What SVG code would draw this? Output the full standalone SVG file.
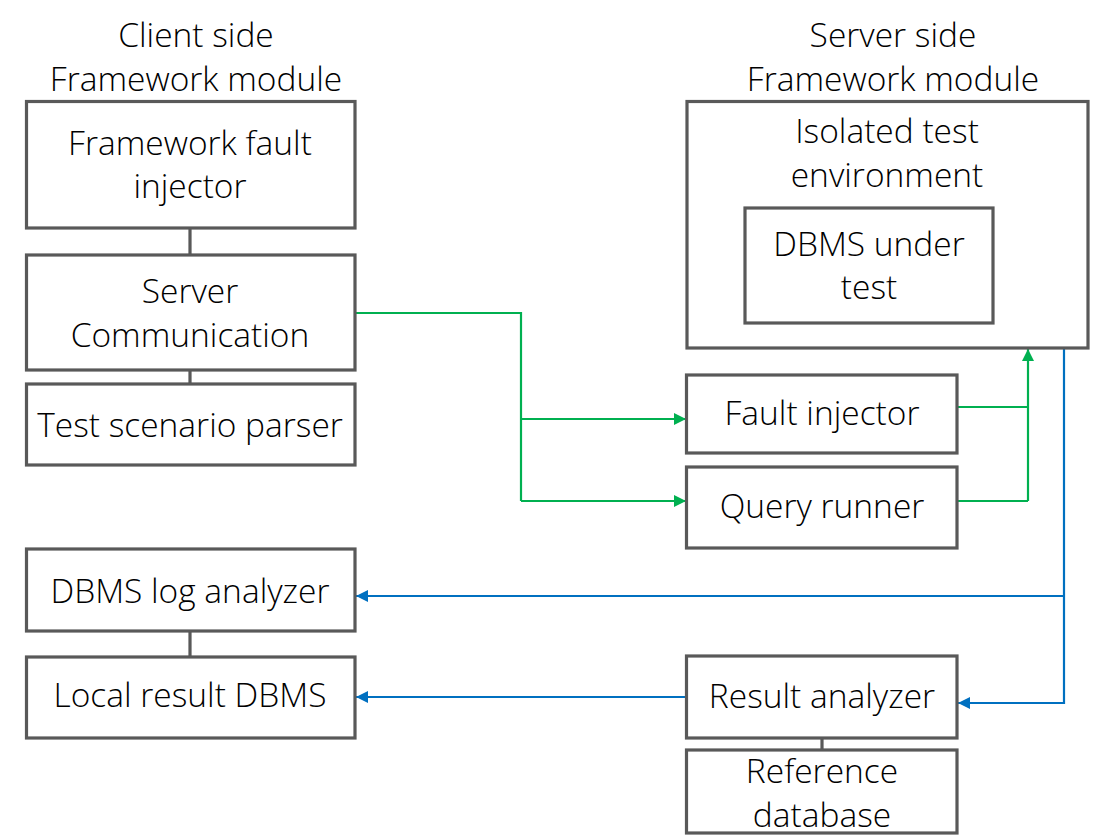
<svg xmlns="http://www.w3.org/2000/svg" width="1113" height="837" viewBox="0 0 1113 837">
  <style>
    .box { fill: #ffffff; stroke: #595959; stroke-width: 3.2; }
    .tie { stroke: #595959; stroke-width: 3.2; fill: none; }
    .lbl { font-family: "Open Sans", "Liberation Sans", sans-serif; font-weight: 300; font-size: 33.5px; fill: #000000; text-anchor: middle; }
    .g { stroke: #00B050; stroke-width: 2.2; fill: none; }
    .b { stroke: #0070C0; stroke-width: 2.2; fill: none; }
  </style>
  <defs>
    <marker id="ag" markerUnits="userSpaceOnUse" markerWidth="12" markerHeight="12" refX="12" refY="6" orient="auto">
      <path d="M0,0 L12,6 L0,12 z" fill="#00B050"/>
    </marker>
    <marker id="ab" markerUnits="userSpaceOnUse" markerWidth="12" markerHeight="12" refX="12" refY="6" orient="auto">
      <path d="M0,0 L12,6 L0,12 z" fill="#0070C0"/>
    </marker>
  </defs>
  <rect width="1113" height="837" fill="#ffffff"/>

  <g id="headers">
    <text class="lbl" x="196" y="47">Client side</text>
    <text class="lbl" x="196" y="91">Framework module</text>
    <text class="lbl" x="893" y="47">Server side</text>
    <text class="lbl" x="893" y="91">Framework module</text>
  </g>

  <g id="ties">
    <line class="tie" x1="190" y1="228" x2="190" y2="255"/>
    <line class="tie" x1="190" y1="370" x2="190" y2="384"/>
    <line class="tie" x1="190" y1="631" x2="190" y2="657"/>
    <line class="tie" x1="822" y1="738" x2="822" y2="750"/>
  </g>

  <g id="connectors">
    <path class="g" d="M356,313 H521 V501"/>
    <line class="g" x1="521" y1="419" x2="686" y2="419" marker-end="url(#ag)"/>
    <line class="g" x1="521" y1="501" x2="686" y2="501" marker-end="url(#ag)"/>
    <line class="g" x1="957" y1="407" x2="1028" y2="407"/>
    <line class="g" x1="957" y1="501" x2="1028" y2="501"/>
    <line class="g" x1="1028" y1="501" x2="1028" y2="349" marker-end="url(#ag)"/>
    <path class="b" d="M1064,348 V703 H958" marker-end="url(#ab)"/>
    <line class="b" x1="1064" y1="596" x2="356" y2="596" marker-end="url(#ab)"/>
    <line class="b" x1="686" y1="697" x2="356" y2="697" marker-end="url(#ab)"/>
  </g>

  <g id="framework-fault-injector">
    <rect class="box" x="26.5" y="101.5" width="328.5" height="126.5"/>
    <text class="lbl" x="190" y="155">Framework fault</text>
    <text class="lbl" x="190" y="198">injector</text>
  </g>
  <g id="server-communication">
    <rect class="box" x="26.5" y="255" width="328.5" height="115"/>
    <text class="lbl" x="190" y="303">Server</text>
    <text class="lbl" x="190" y="347">Communication</text>
  </g>
  <g id="test-scenario-parser">
    <rect class="box" x="26.5" y="384" width="328.5" height="81"/>
    <text class="lbl" x="190" y="437">Test scenario parser</text>
  </g>
  <g id="dbms-log-analyzer">
    <rect class="box" x="26.5" y="549" width="328.5" height="82"/>
    <text class="lbl" x="190" y="603">DBMS log analyzer</text>
  </g>
  <g id="local-result-dbms">
    <rect class="box" x="26.5" y="657" width="328.5" height="81"/>
    <text class="lbl" x="190" y="707">Local result DBMS</text>
  </g>

  <g id="isolated-test-environment">
    <rect class="box" x="687" y="101.5" width="401" height="246.5"/>
    <text class="lbl" x="887" y="143">Isolated test</text>
    <text class="lbl" x="887" y="187">environment</text>
  </g>
  <g id="dbms-under-test">
    <rect class="box" x="745" y="208" width="248" height="115"/>
    <text class="lbl" x="869" y="256">DBMS under</text>
    <text class="lbl" x="869" y="299">test</text>
  </g>
  <g id="fault-injector">
    <rect class="box" x="686.5" y="375" width="270.5" height="78"/>
    <text class="lbl" x="822" y="425">Fault injector</text>
  </g>
  <g id="query-runner">
    <rect class="box" x="686.5" y="467" width="270.5" height="81"/>
    <text class="lbl" x="822" y="518">Query runner</text>
  </g>
  <g id="result-analyzer">
    <rect class="box" x="686.5" y="656" width="270.5" height="82"/>
    <text class="lbl" x="822" y="708">Result analyzer</text>
  </g>
  <g id="reference-database">
    <rect class="box" x="686.5" y="750" width="270.5" height="83"/>
    <text class="lbl" x="822" y="783">Reference</text>
    <text class="lbl" x="822" y="827">database</text>
  </g>
</svg>
